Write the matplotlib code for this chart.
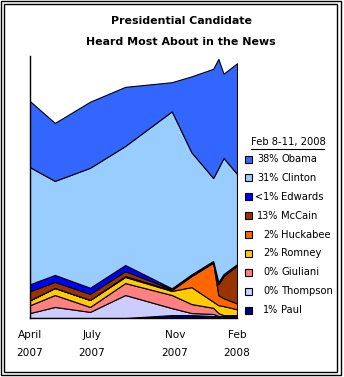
import matplotlib
matplotlib.use("Agg")
import matplotlib.pyplot as plt
from matplotlib.patches import Rectangle
from matplotlib.lines import Line2D

# Months elapsed since April 2007 for each survey point
months = [0, 1.2, 2.9, 4.6, 6.85, 7.8, 8.85, 9.1, 9.35, 10]

# Share (%) naming each candidate as the one heard most about
obama    = [22.7, 19.9, 22.7, 20.3, 10.0, 26.1, 37.5, 37.5, 28.9, 38]
clinton  = [40.2, 32.3, 41.2, 40.9, 60.8, 41.9, 28.5, 39.2, 39.9, 31]
edwards  = [2.4, 2.4, 2.1, 2.1, 0.3, 0.3, 0.3, 0.7, 0.7, 0.5]
mccain   = [3.1, 2.1, 2.1, 1.7, 0.3, 0.3, 0.3, 3.8, 7.6, 13]
huckabee = [0, 0, 0, 0.3, 0.3, 3.8, 13.4, 3.4, 2.7, 2]
romney   = [1.7, 2.4, 2.4, 2.1, 1.4, 5.8, 2.1, 2.7, 3.1, 2]
giuliani = [2.7, 4.1, 1.7, 4.1, 4.5, 3.1, 2.1, 1.0, 0.3, 0]
thompson = [1.7, 3.8, 2.1, 7.9, 2.4, 0.7, 0.7, 0, 0, 0]
paul     = [0, 0, 0, 0, 1.0, 1.0, 0.7, 0.7, 0.7, 1]

names = ["Obama", "Clinton", "Edwards", "McCain", "Huckabee",
         "Romney", "Giuliani", "Thompson", "Paul"]
series = [obama, clinton, edwards, mccain, huckabee,
          romney, giuliani, thompson, paul]
colors = ["#3366FF", "#99CCFF", "#0000FF", "#993300", "#FF6600",
          "#FFCC00", "#FF8080", "#CCCCFF", "#000080"]

tick_pos = [0, 3, 7, 10]
tick_labels = ["April\n2007", "July\n2007", "Nov\n2007", "Feb\n2008"]
legend_title = "Feb 8-11, 2008"

W, H = 344, 377
fig = plt.figure(figsize=(W / 100, H / 100), dpi=100)
fig.patch.set_facecolor("white")


def fx(px):
    return px / W


def fy(py):
    return 1 - py / H


ax = fig.add_axes([fx(30), fy(318), 207 / W, 262 / H])
ax.stackplot(months, *series[::-1], colors=colors[::-1],
             edgecolor="black", linewidth=0.8)
ax.set_xlim(0, 10)
ax.set_ylim(0, 90)
ax.set_yticks([])
ax.set_xticks(tick_pos, tick_labels)
ax.tick_params(axis="x", length=0, pad=9, labelsize=7.6)
for lab in ax.get_xticklabels():
    lab.set_linespacing(2.0)
for s in ["top", "right"]:
    ax.spines[s].set_visible(False)
for s in ["left", "bottom"]:
    ax.spines[s].set_linewidth(1.0)

# Title
fig.text(fx(181), fy(21), "Presidential Candidate", ha="center", va="center",
         fontsize=7.9, fontweight="bold")
fig.text(fx(181), fy(42), "Heard Most About in the News", ha="center",
         va="center", fontsize=7.9, fontweight="bold")

# Legend with latest values
fig.text(fx(288), fy(142), legend_title, ha="center", va="center", fontsize=7.2)
fig.add_artist(Line2D([fx(251), fx(324)], [fy(149), fy(149)],
                      color="black", linewidth=0.8))
for i, (name, vals, col) in enumerate(zip(names, series, colors)):
    yc = 159 + i * 18.9
    v = vals[-1]
    pct = "<1%" if 0 < v < 1 else f"{v:.0f}%"
    fig.add_artist(Rectangle((fx(245), fy(yc + 3.5)), 7 / W, 7 / H,
                             facecolor=col, edgecolor="black", linewidth=0.8))
    fig.text(fx(278.5), fy(yc), pct, ha="right", va="center", fontsize=7.0)
    fig.text(fx(281), fy(yc), name, ha="left", va="center", fontsize=7.2)

# Double frame
fig.add_artist(Rectangle((fx(1), fy(375)), 340 / W, 374 / H, fill=False,
                         edgecolor="black", linewidth=1.0))
fig.add_artist(Rectangle((fx(4), fy(372)), 333 / W, 368 / H, fill=False,
                         edgecolor="black", linewidth=1.0))

fig.savefig("out.png", dpi=100)
